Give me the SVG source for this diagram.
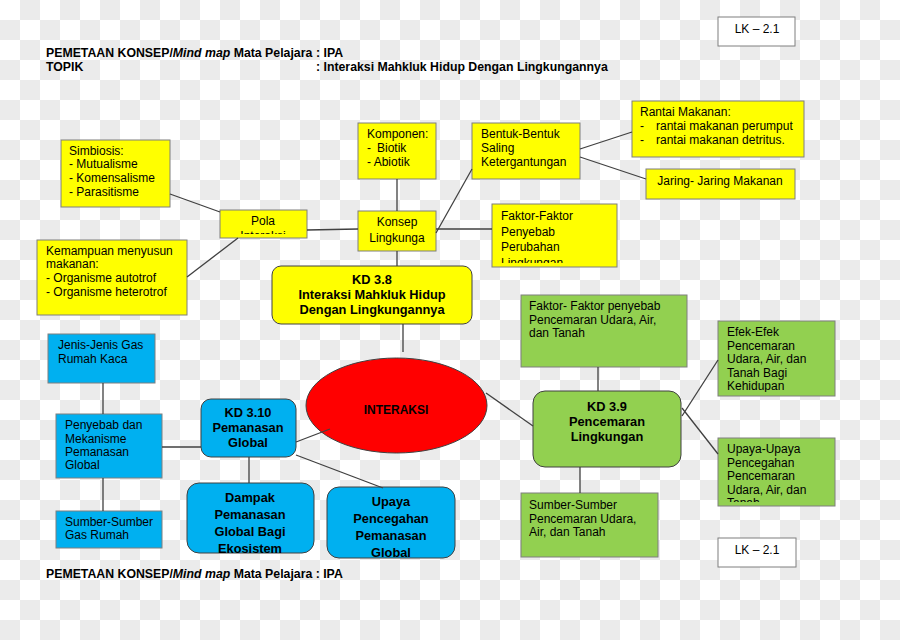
<svg xmlns="http://www.w3.org/2000/svg" width="900" height="640" viewBox="0 0 900 640">
<defs>
<pattern id="chk" width="40" height="40" patternUnits="userSpaceOnUse"><rect width="40" height="40" fill="#ffffff"/><rect x="20" y="0" width="20" height="20" fill="#ebebeb"/><rect x="0" y="20" width="20" height="20" fill="#ebebeb"/></pattern>
<clipPath id="cPola"><rect x="221" y="211" width="85" height="23"/></clipPath>
<clipPath id="cFak"><rect x="493" y="205" width="123" height="58"/></clipPath>
<clipPath id="cEfek"><rect x="719" y="322" width="115" height="70"/></clipPath>
<clipPath id="cUpG"><rect x="719" y="439" width="115" height="63"/></clipPath>
<clipPath id="cDam"><rect x="188" y="484" width="125" height="69"/></clipPath>
<clipPath id="cUpB"><rect x="328" y="488" width="126" height="70"/></clipPath>
</defs>
<style>
text{font-family:"Liberation Sans",Arial,sans-serif;fill:#000}
.t{font-size:12px}
.b{font-size:12.8px;font-weight:bold}
.h{font-size:12.3px;font-weight:bold}
.c{text-anchor:middle}
.y{fill:#ffff00;stroke:#7f7f7f;stroke-width:1}
.yr{fill:#ffff00;stroke:#404040;stroke-width:1}
.g{fill:#92d050;stroke:#7f7f7f;stroke-width:1}
.gr{fill:#92d050;stroke:#404040;stroke-width:1}
.bl{fill:#00b0f0;stroke:#7f7f7f;stroke-width:1}
.blr{fill:#00b0f0;stroke:#404040;stroke-width:1}
.w{fill:#ffffff;stroke:#7f7f7f;stroke-width:1}
.ln{stroke:#404040;stroke-width:1.3;fill:none}
</style>
<rect width="900" height="640" fill="url(#chk)"/>

<g id="header">
<text class="h" x="46" y="57">PEMETAAN KONSEP/<tspan font-style="italic">Mind map</tspan> Mata Pelajara</text>
<text class="h" x="316" y="57">: IPA</text>
<text class="h" x="46" y="71">TOPIK</text>
<text class="h" x="316" y="71">: Interaksi Mahkluk Hidup Dengan Lingkungannya</text>
</g>
<g id="footer">
<text class="h" x="46" y="578">PEMETAAN KONSEP/<tspan font-style="italic">Mind map</tspan> Mata Pelajara : IPA</text>
</g>

<g id="lk-top"><rect class="w" x="718" y="17" width="77" height="29"/><text class="t c" x="757" y="33">LK – 2.1</text></g>
<g id="lk-bottom"><rect class="w" x="718" y="538" width="78" height="29"/><text class="t c" x="757" y="554">LK – 2.1</text></g>

<g id="simbiosis"><rect class="y" x="61" y="140" width="109" height="67"/>
<text class="t" x="69" y="155">Simbiosis:</text><text class="t" x="69" y="168">- Mutualisme</text><text class="t" x="69" y="182">- Komensalisme</text><text class="t" x="69" y="196">- Parasitisme</text></g>

<g id="pola"><rect class="y" x="220" y="210" width="87" height="28"/>
<g clip-path="url(#cPola)"><text class="t c" x="263" y="225">Pola</text><text class="t c" x="263" y="240">Interaksi</text></g></g>

<g id="kemampuan"><rect class="y" x="37" y="240" width="150" height="75"/>
<text class="t" x="46" y="255">Kemampuan menyusun</text><text class="t" x="46" y="268">makanan:</text><text class="t" x="46" y="282">- Organisme autotrof</text><text class="t" x="46" y="296">- Organisme heterotrof</text></g>

<g id="komponen"><rect class="y" x="358" y="123" width="78" height="56"/>
<text class="t" x="367" y="138">Komponen:</text><text class="t" x="367" y="152">-</text><text class="t" x="377" y="152">Biotik</text><text class="t" x="367" y="166">- Abiotik</text></g>

<g id="bentuk"><rect class="y" x="472" y="123" width="108" height="56"/>
<text class="t" x="481" y="138">Bentuk-Bentuk</text><text class="t" x="481" y="152">Saling</text><text class="t" x="481" y="166">Ketergantungan</text></g>

<g id="konsep"><rect class="y" x="358" y="211" width="78" height="40"/>
<text class="t c" x="397" y="226">Konsep</text><text class="t c" x="397" y="242">Lingkunga</text></g>

<g id="faktor"><rect class="y" x="492" y="204" width="125" height="63"/>
<g clip-path="url(#cFak)"><text class="t" x="501" y="220">Faktor-Faktor</text><text class="t" x="501" y="236">Penyebab</text><text class="t" x="501" y="251">Perubahan</text><text class="t" x="501" y="267">Lingkungan</text></g></g>

<g id="rantai"><rect class="y" x="632" y="101" width="172" height="56"/>
<text class="t" x="640" y="116">Rantai Makanan:</text><text class="t" x="640" y="130">-</text><text class="t" x="656" y="130">rantai makanan perumput</text><text class="t" x="640" y="144">-</text><text class="t" x="656" y="144">rantai makanan detritus.</text></g>

<g id="jaring"><rect class="y" x="646" y="169" width="149" height="30"/>
<text class="t c" x="720" y="185">Jaring- Jaring Makanan</text></g>

<g id="kd38"><rect class="yr" x="272" y="266" width="200" height="58" rx="9"/>
<text class="b c" x="372" y="284">KD 3.8</text><text class="b c" x="372" y="299">Interaksi Mahkluk Hidup</text><text class="b c" x="372" y="314">Dengan Lingkungannya</text></g>

<g id="interaksi"><ellipse cx="396.5" cy="405.5" rx="90.5" ry="47.5" fill="#ff0000" stroke="#404040" stroke-width="1"/>
<text class="c" x="396" y="414" style="font-size:12px;font-weight:bold">INTERAKSI</text></g>

<g id="faktor-cemar"><rect class="g" x="521" y="295" width="166" height="72"/>
<text class="t" x="529" y="310">Faktor- Faktor penyebab</text><text class="t" x="529" y="324">Pencemaran Udara, Air,</text><text class="t" x="529" y="337">dan Tanah</text></g>

<g id="kd39"><rect class="gr" x="533" y="391" width="148" height="76" rx="12"/>
<text class="b c" x="607" y="411">KD 3.9</text><text class="b c" x="607" y="426">Pencemaran</text><text class="b c" x="607" y="441">Lingkungan</text></g>

<g id="efek"><rect class="g" x="718" y="321" width="117" height="75"/>
<g clip-path="url(#cEfek)"><text class="t" x="727" y="336">Efek-Efek</text><text class="t" x="727" y="350">Pencemaran</text><text class="t" x="727" y="363">Udara, Air, dan</text><text class="t" x="727" y="377">Tanah Bagi</text><text class="t" x="727" y="390">Kehidupan</text></g></g>

<g id="upaya-cemar"><rect class="g" x="718" y="438" width="117" height="68"/>
<g clip-path="url(#cUpG)"><text class="t" x="727" y="453">Upaya-Upaya</text><text class="t" x="727" y="467">Pencegahan</text><text class="t" x="727" y="480">Pencemaran</text><text class="t" x="727" y="494">Udara, Air, dan</text><text class="t" x="727" y="507">Tanah</text></g></g>

<g id="sumber-cemar"><rect class="g" x="521" y="493" width="137" height="64"/>
<text class="t" x="529" y="509">Sumber-Sumber</text><text class="t" x="529" y="523">Pencemaran Udara,</text><text class="t" x="529" y="536">Air, dan Tanah</text></g>

<g id="jenis-gas"><rect class="bl" x="48" y="334" width="107" height="49"/>
<text class="t" x="58" y="349">Jenis-Jenis Gas</text><text class="t" x="58" y="363">Rumah Kaca</text></g>

<g id="penyebab"><rect class="bl" x="56" y="414" width="106" height="64"/>
<text class="t" x="65" y="429">Penyebab  dan</text><text class="t" x="65" y="443">Mekanisme</text><text class="t" x="65" y="456">Pemanasan</text><text class="t" x="65" y="469">Global</text></g>

<g id="sumber-gas"><rect class="bl" x="56" y="511" width="106" height="37"/>
<text class="t" x="65" y="526">Sumber-Sumber</text><text class="t" x="65" y="539">Gas Rumah</text></g>

<g id="kd310"><rect class="blr" x="201" y="399" width="95" height="58" rx="10"/>
<text class="b c" x="248" y="417">KD 3.10</text><text class="b c" x="248" y="432">Pemanasan</text><text class="b c" x="248" y="447">Global</text></g>

<g id="dampak"><rect class="blr" x="187" y="483" width="127" height="70" rx="12"/>
<g clip-path="url(#cDam)"><text class="b c" x="250" y="502">Dampak</text><text class="b c" x="250" y="519">Pemanasan</text><text class="b c" x="250" y="536">Global Bagi</text><text class="b c" x="250" y="553">Ekosistem</text></g></g>

<g id="upaya-pemanasan"><rect class="blr" x="327" y="487" width="128" height="71" rx="12"/>
<g clip-path="url(#cUpB)"><text class="b c" x="391" y="506">Upaya</text><text class="b c" x="391" y="523">Pencegahan</text><text class="b c" x="391" y="540">Pemanasan</text><text class="b c" x="391" y="557">Global</text></g></g>

<g id="connectors" class="ln">
<line x1="170" y1="194" x2="220" y2="212"/>
<line x1="187" y1="277" x2="238" y2="238"/>
<line x1="307" y1="230" x2="358" y2="229"/>
<line x1="397" y1="179" x2="397" y2="211"/>
<line x1="436" y1="233" x2="472" y2="169"/>
<line x1="436" y1="229" x2="492" y2="229"/>
<line x1="397" y1="251" x2="397" y2="266"/>
<line x1="580" y1="149" x2="632" y2="132"/>
<line x1="580" y1="157" x2="646" y2="179"/>
<line x1="403" y1="324" x2="403" y2="352"/>
<line x1="486" y1="393" x2="533" y2="426"/>
<line x1="598" y1="367" x2="598" y2="391"/>
<line x1="682" y1="416" x2="718" y2="360"/>
<line x1="682" y1="408" x2="718" y2="454"/>
<line x1="580" y1="467" x2="580" y2="493"/>
<line x1="103" y1="383" x2="103" y2="414"/>
<line x1="103" y1="478" x2="103" y2="511"/>
<line x1="162" y1="447" x2="201" y2="447"/>
<line x1="296" y1="442" x2="330" y2="429"/>
<line x1="296" y1="455" x2="383" y2="488"/>
<line x1="249" y1="457" x2="249" y2="483"/>
</g>
</svg>
